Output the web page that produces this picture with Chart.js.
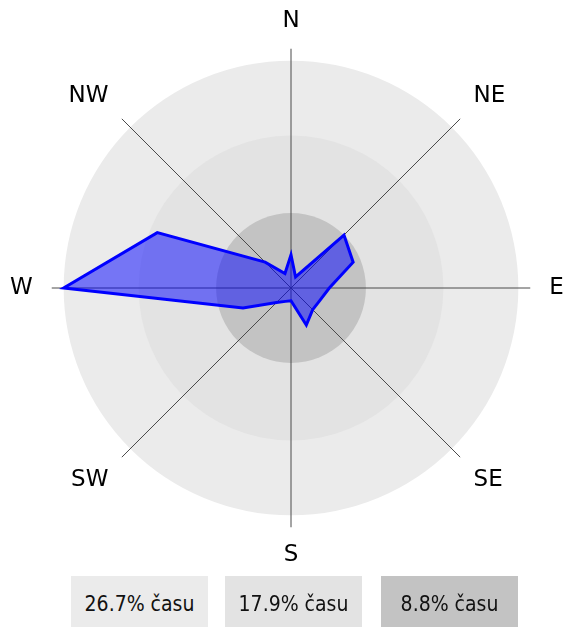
<!DOCTYPE html>
<html>
<head>
<meta charset="utf-8">
<script src="https://cdn.jsdelivr.net/npm/chart.js@4/dist/chart.umd.min.js"></script>
<style>
  html, body { margin: 0; padding: 0; background: #fff; }
  #wrap { position: relative; width: 569px; height: 627px; overflow: hidden; }
  #c { position: absolute; left: 0; top: 0; }
  .lg { position: absolute; top: 576px; width: 137px; height: 56px; display: flex;
        align-items: center; justify-content: center;
        font-family: "DejaVu Sans Condensed", "DejaVu Sans", sans-serif; font-size: 21px; color: #111; }
</style>
</head>
<body>
<div id="wrap">
  <canvas id="c" width="569" height="627"></canvas>
</div>
<script>
// Directions (clockwise from north) and share of time (%) per direction
const categories = ['N','NNE','NE','ENE','E','ESE','SE','SSE','S','SSW','SW','WSW','W','WNW','NW','NNW'];
const frequency  = [3.9, 1.4, 8.8, 7.9, 4.5, 3.7, 3.6, 4.7, 1.5, 1.7, 2.4, 6.1, 26.7, 17.0, 4.3, 1.85];
// Reference rings (% of time)
const ringValues = [26.7, 17.9, 8.8];
const ringColors = ['#ebebeb', '#e3e3e3', '#c3c3c3'];
const axisExtent = 28.1;
const legendSuffix = '% času';

const ringsPlugin = {
  id: 'rings',
  beforeDraw(chart) {
    const s = chart.scales.r;
    const ctx = chart.ctx;
    ctx.save();
    ringValues.forEach((v, i) => {
      ctx.beginPath();
      ctx.arc(s.xCenter, s.yCenter, s.getDistanceFromCenterForValue(v), 0, Math.PI * 2);
      ctx.fillStyle = ringColors[i];
      ctx.fill();
    });
    ctx.restore();
  }
};

new Chart(document.getElementById('c'), {
  type: 'radar',
  data: {
    labels: categories,
    datasets: [{
      data: frequency,
      borderColor: '#0000ff',
      borderWidth: 3,
      backgroundColor: 'rgba(0,0,255,0.5)',
      pointRadius: 0,
      pointHoverRadius: 0,
      borderJoinStyle: 'miter',
      tension: 0,
      fill: true
    }]
  },
  options: {
    responsive: false,
    animation: false,
    devicePixelRatio: 1,
    layout: { padding: { left: 6, right: 1, top: 7, bottom: 58 } },
    plugins: { legend: { display: false }, tooltip: { enabled: false } },
    scales: {
      r: {
        min: 0,
        max: axisExtent,
        grid: { display: false },
        ticks: { display: false },
        angleLines: {
          display: true,
          color: '#4a4a4a',
          lineWidth: (ctx) => (ctx.index % 2 === 0 ? 1 : 0)
        },
        pointLabels: {
          display: true,
          padding: 19,
          color: '#000',
          font: { family: 'DejaVu Sans', size: 23, lineHeight: '18px' },
          callback: (label) => (label.length <= 2 ? label : '')
        }
      }
    }
  },
  plugins: [ringsPlugin]
});

// Legend boxes
const wrap = document.getElementById('wrap');
const legendLeft = [71, 225, 381];
ringValues.forEach((v, i) => {
  const d = document.createElement('div');
  d.className = 'lg';
  d.style.left = legendLeft[i] + 'px';
  d.style.background = ringColors[i];
  d.textContent = v + legendSuffix;
  wrap.appendChild(d);
});
</script>
</body>
</html>
